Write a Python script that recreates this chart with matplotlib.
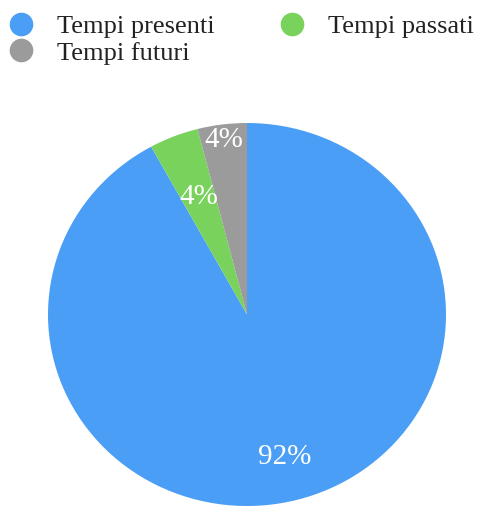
import numpy as np
import matplotlib
matplotlib.use("Agg")
import matplotlib.pyplot as plt
from matplotlib.lines import Line2D

# dati
etichette = ["Tempi presenti", "Tempi passati", "Tempi futuri"]
valori = [92, 4, 4]
colori = ["#4A9EF5", "#78D25B", "#9B9B9B"]

plt.rcParams['font.family'] = ['Liberation Serif', 'DejaVu Serif']

fig = plt.figure(figsize=(4.85, 5.08), dpi=100)
W, H = 485, 508
ax = fig.add_axes([48 / W, 2 / H, 398 / W, 383 / H])

wedges, _ = ax.pie(valori, colors=colori, startangle=90, counterclock=False,
                   radius=1, wedgeprops=dict(linewidth=0))
ax.set_aspect('auto')
ax.set_xlim(-1, 1)
ax.set_ylim(-1, 1)
ax.axis('off')

# posizione delle percentuali lungo la bisettrice di ogni spicchio
distanze = [0.77, 0.66, 0.92]
for w, v, d in zip(wedges, valori, distanze):
    ang = np.deg2rad((w.theta1 + w.theta2) / 2)
    ax.text(d * np.cos(ang), d * np.sin(ang), f"{v}%", color="white",
            fontsize=21, ha="center", va="center")

# legenda: colonna 1 = presenti, futuri; colonna 2 = passati
ordine = [0, 2, 1]
maniglie = [Line2D([], [], linestyle="none", marker="o", markersize=17,
                   markerfacecolor=colori[i], markeredgewidth=0) for i in ordine]
fig.legend(maniglie, [etichette[i] for i in ordine], ncol=2, loc="upper left",
           bbox_to_anchor=(0, 1 - 15 / H), frameon=False, fontsize=19,
           borderaxespad=0, borderpad=0, handlelength=1.6, handletextpad=0.55,
           columnspacing=2.15, labelspacing=0.1, labelcolor="#222222")

fig.savefig("out.png", dpi=100)
